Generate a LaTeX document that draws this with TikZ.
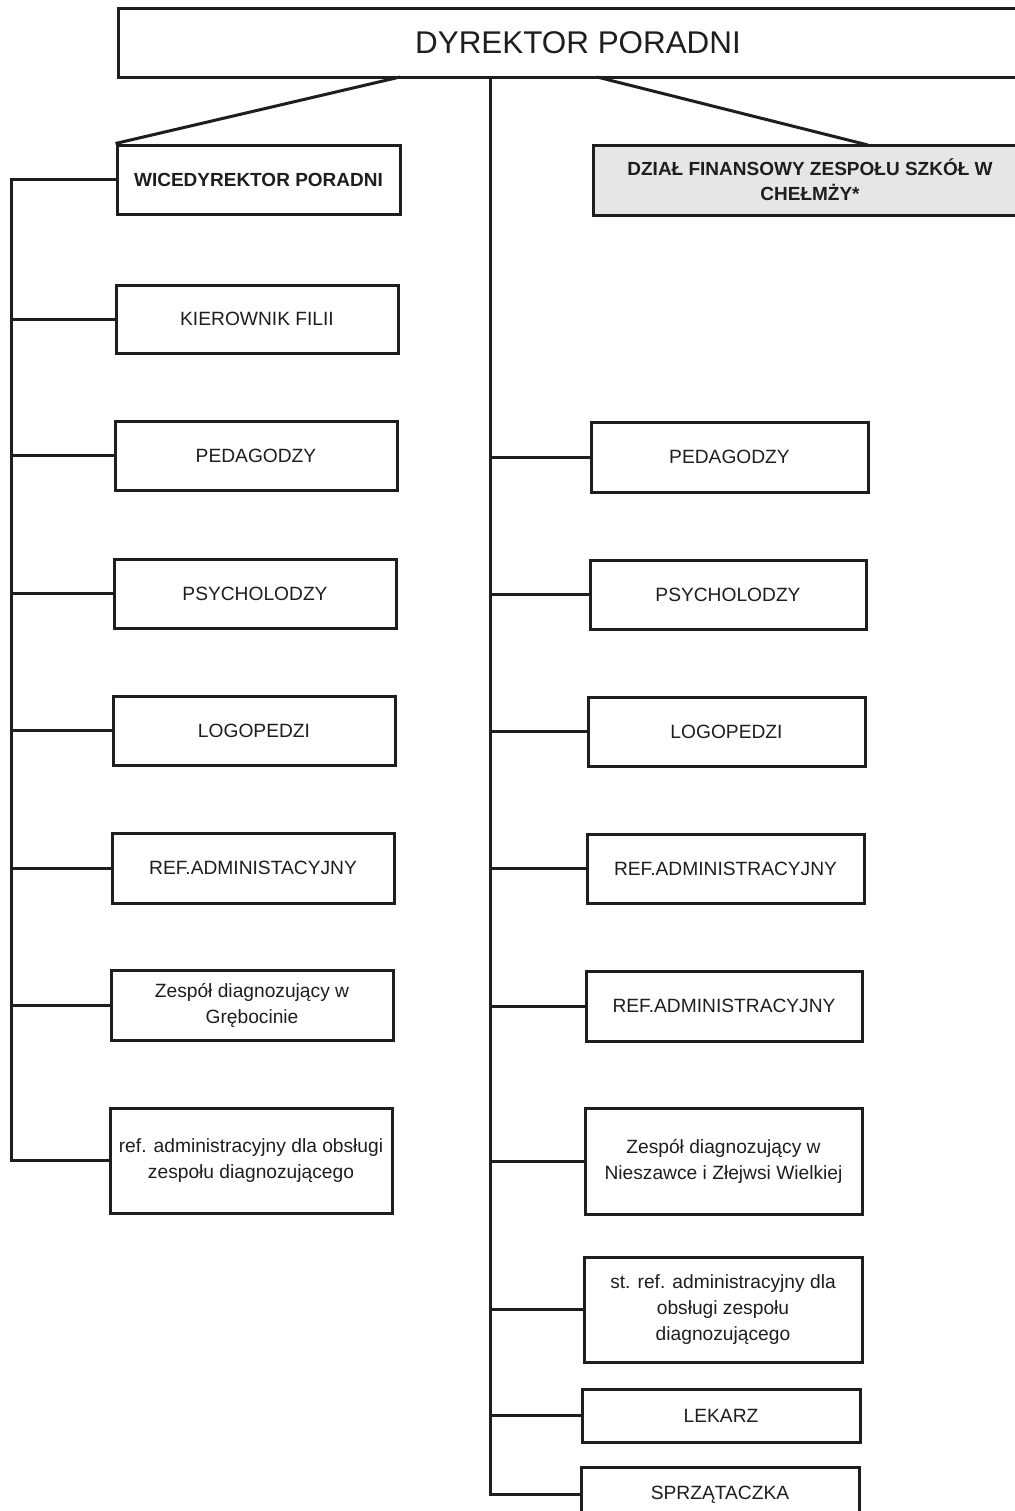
\documentclass[tikz,border=0pt]{standalone}
\usepackage{fontspec}
\setmainfont{Liberation Sans}
\definecolor{ink}{HTML}{1E1E1E}
\definecolor{grayfill}{HTML}{E6E6E6}
\newcommand{\obox}[7][]{%
  \pgfmathsetmacro{\oboxw}{(#5-#3)*0.5}%
  \pgfmathsetmacro{\oboxh}{(#6-#4)*0.5}%
  \node[orgbox,#1,minimum width=\oboxw pt,minimum height=\oboxh pt] (#2) at ({(#3+#5)/2},{(#4+#6)/2}) {#7};}
\begin{document}
\begin{tikzpicture}[x=0.5pt,y=-0.5pt,
  orgbox/.style={draw=ink,line width=1.5pt,fill=white,inner sep=1pt,align=center,text=ink,
    font=\fontsize{9.6}{13}\selectfont},
  headtext/.style={font=\fontsize{9.5}{12.5}\selectfont\bfseries},
  conn/.style={draw=ink,line width=1.5pt}]
\useasboundingbox (0,0) rectangle (1015,1511);
\fill[white] (0,0) rectangle (1015,1511);
\clip (0,0) rectangle (1015,1511);
% top
\obox[font=\fontsize{15.7}{18}\selectfont]{top}{118}{8}{1038}{77}{DYREKTOR PORADNI}
% left column
\obox[headtext]{L1}{117}{145}{400}{214}{WICEDYREKTOR PORADNI}
\obox{L2}{116}{285}{398}{353}{KIEROWNIK FILII}
\obox{L3}{115}{421}{397}{490}{PEDAGODZY}
\obox{L4}{114}{559}{396}{628}{PSYCHOLODZY}
\obox{L5}{113}{696}{395}{765}{LOGOPEDZI}
\obox{L6}{112}{833}{394}{903}{REF.ADMINISTACYJNY}
\obox{L7}{111}{970}{393}{1040}{Zespół diagnozujący w\\Grębocinie}
\obox{L8}{110}{1108}{392}{1213}{ref. administracyjny dla obsługi\\zespołu diagnozującego}
% right column
\obox[headtext,fill=grayfill]{R0}{593}{145}{1027}{215}{DZIAŁ FINANSOWY ZESPOŁU SZKÓŁ W\\CHEŁMŻY*}
\obox{R1}{591}{422}{868}{492}{PEDAGODZY}
\obox{R2}{590}{560}{866}{629}{PSYCHOLODZY}
\obox{R3}{588}{697}{865}{766}{LOGOPEDZI}
\obox{R4}{587}{834}{864}{903}{REF.ADMINISTRACYJNY}
\obox{R5}{586}{971}{862}{1041}{REF.ADMINISTRACYJNY}
\obox{R6}{585}{1108}{862}{1214}{Zespół diagnozujący w\\Nieszawce i Złejwsi Wielkiej}
\obox{R7}{584}{1257}{862}{1362}{st. ref. administracyjny dla\\obsługi zespołu\\diagnozującego}
\obox{R8}{582}{1389}{860}{1442}{LEKARZ}
\obox{R9}{581}{1467}{859}{1522}{SPRZĄTACZKA}
% connectors
\coordinate (dl) at (400,77);
\coordinate (dr) at (597,77);
\coordinate (drE) at (868,145);
\draw[conn] (dl) -- (L1.north west);
\draw[conn] (dr) -- (drE);
\coordinate (lbB) at (11,1160.5);
\draw[conn] (L1.west) -| (lbB) -- (L8.west);
\foreach \n in {L2,L3,L4,L5,L6,L7}{\draw[conn] (\n.west) -- (\n.west -| lbB);}
\coordinate (rbB) at (490,1494.5);
\draw[conn] (rbB |- top.south) -- (rbB) -- (R9.west);
\foreach \n in {R1,R2,R3,R4,R5,R6,R7,R8}{\draw[conn] (\n.west) -- (\n.west -| rbB);}
\end{tikzpicture}
\end{document}
